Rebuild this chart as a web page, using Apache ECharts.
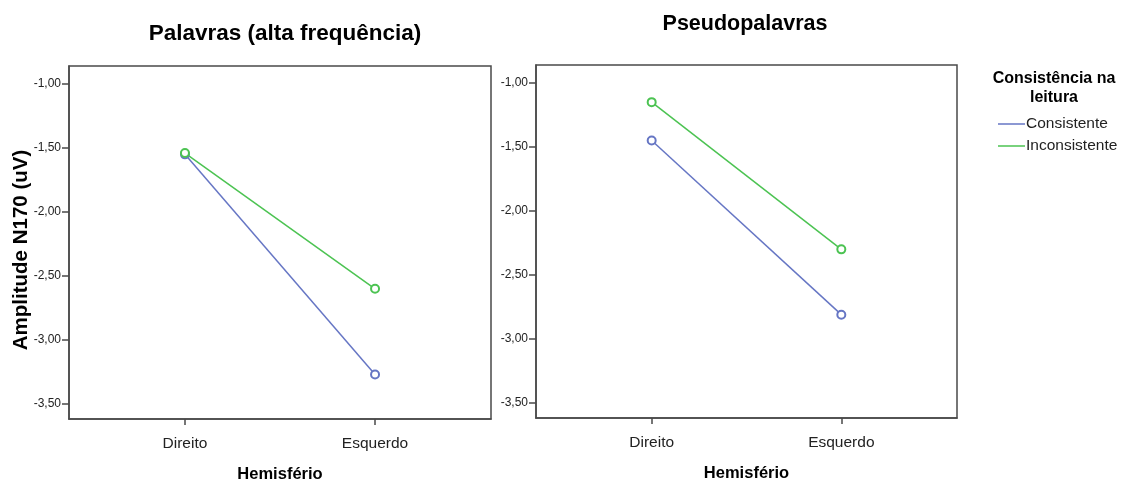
<!DOCTYPE html>
<html>
<head>
<meta charset="utf-8">
<script src="https://cdn.jsdelivr.net/npm/echarts@6/dist/echarts.min.js"></script>
<style>
  html, body { margin: 0; padding: 0; background: #fff; }
  #chart { width: 1129px; height: 483px; }
</style>
</head>
<body>
<div id="chart"></div>
<script>
// values
const hemisferios = ['Direito', 'Esquerdo']
const yTicks = [-3.5, -3.0, -2.5, -2.0, -1.5, -1.0]

const palavrasConsistente = [-1.55, -3.27]
const palavrasInconsistente = [-1.54, -2.60]
const pseudoConsistente = [-1.45, -2.81]
const pseudoInconsistente = [-1.15, -2.30]

const BLUE = '#6676c4'
const GREEN = '#4cc352'
const AXIS = '#4a4a4a'
const FONT = '"Liberation Sans", Arial, sans-serif'

function pts (vals) {
  return vals.map((v, i) => [i, v])
}

function fmt (v) {
  return v.toFixed(2).replace('.', ',')
}

function xAxis (idx) {
  return {
    type: 'value',
    gridIndex: idx,
    min: -0.61,
    max: 1.61,
    name: 'Hemisfério',
    nameLocation: 'middle',
    nameGap: 47,
    nameTextStyle: { fontFamily: FONT, fontSize: 16.5, fontWeight: 'bold', color: '#000' },
    axisLine: { show: true, onZero: false, lineStyle: { color: AXIS, width: 1.5 } },
    axisTick: { show: true, customValues: [0, 1], length: 6, lineStyle: { color: AXIS, width: 1.5 } },
    axisLabel: {
      customValues: [0, 1],
      formatter: v => hemisferios[Math.round(v)],
      fontFamily: FONT, fontSize: 15.5, color: '#222', margin: 17
    },
    splitLine: { show: false }
  }
}

function yAxis (idx) {
  return {
    type: 'value',
    gridIndex: idx,
    min: -3.617,
    max: -0.86,
    axisLine: { show: true, onZero: false, lineStyle: { color: AXIS, width: 1.5 } },
    axisTick: { show: true, customValues: yTicks, length: 7, lineStyle: { color: AXIS, width: 1.5 } },
    axisLabel: {
      customValues: yTicks,
      formatter: v => fmt(v),
      fontFamily: FONT, fontSize: 12, color: '#222', margin: 8
    },
    splitLine: { show: false }
  }
}

function line (name, vals, idx, color) {
  return {
    name,
    type: 'line',
    xAxisIndex: idx,
    yAxisIndex: idx,
    data: pts(vals),
    symbol: 'emptyCircle',
    symbolSize: 8,
    color,
    lineStyle: { color, width: 1.5 },
    itemStyle: { color, borderColor: color, borderWidth: 1.5 },
    animation: false
  }
}

const chart = echarts.init(document.getElementById('chart'))

chart.setOption({
  animation: false,
  title: [
    {
      text: 'Palavras (alta frequência)',
      left: 280, top: 17, textAlign: 'center',
      textStyle: { fontFamily: FONT, fontSize: 22.5, fontWeight: 'bold', color: '#000' }
    },
    {
      text: 'Pseudopalavras',
      left: 740, top: 8, textAlign: 'center',
      textStyle: { fontFamily: FONT, fontSize: 21.5, fontWeight: 'bold', color: '#000' }
    },
    {
      text: 'Consistência na\nleitura',
      left: 1049, top: 64, textAlign: 'center',
      textStyle: { fontFamily: FONT, fontSize: 16, fontWeight: 'bold', color: '#000', lineHeight: 19 }
    }
  ],
  graphic: [
    {
      type: 'text',
      x: 21, y: 250,
      rotation: Math.PI / 2,
      style: {
        text: 'Amplitude N170 (uV)',
        font: 'bold 20.5px "Liberation Sans", Arial, sans-serif',
        fill: '#000',
        align: 'center',
        verticalAlign: 'middle'
      }
    }
  ],
  legend: {
    orient: 'vertical',
    left: 993,
    top: 111,
    itemWidth: 27,
    itemHeight: 1.5,
    itemGap: 6,
    icon: 'rect',
    itemStyle: { borderWidth: 0 },
    textStyle: { fontFamily: FONT, fontSize: 15.5, color: '#222', padding: [0, 0, 0, -4] },
    data: ['Consistente', 'Inconsistente']
  },
  grid: [
    { left: 69, top: 66, width: 422, height: 353, outerBoundsMode: 'none', show: true, borderColor: AXIS, borderWidth: 1.5 },
    { left: 536, top: 65, width: 421, height: 353, outerBoundsMode: 'none', show: true, borderColor: AXIS, borderWidth: 1.5 }
  ],
  xAxis: [xAxis(0), xAxis(1)],
  yAxis: [yAxis(0), yAxis(1)],
  series: [
    line('Consistente', palavrasConsistente, 0, BLUE),
    line('Inconsistente', palavrasInconsistente, 0, GREEN),
    line('Consistente', pseudoConsistente, 1, BLUE),
    line('Inconsistente', pseudoInconsistente, 1, GREEN)
  ]
})
</script>
</body>
</html>
